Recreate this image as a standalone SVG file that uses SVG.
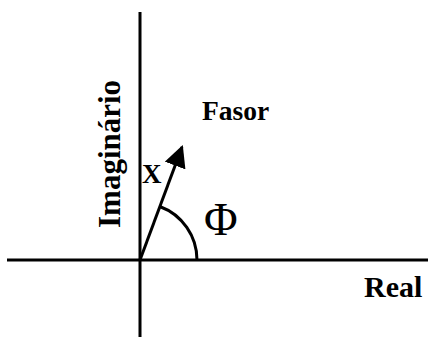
<svg xmlns="http://www.w3.org/2000/svg" width="428" height="337" viewBox="0 0 428 337">
<style>
.ax{stroke:#000;stroke-width:3;fill:none}
.t{font-family:"Liberation Serif","Times New Roman",serif;fill:#000}
.b{font-weight:bold}
</style>
<defs>
<marker id="ah" markerUnits="userSpaceOnUse" markerWidth="22" markerHeight="22" viewBox="0 0 20 20" refX="18" refY="10" orient="auto">
<path d="M0,0 L20,10 L0,20 Z" fill="#000"/>
</marker>
</defs>
<rect width="428" height="337" fill="#fff"/>
<g id="connectors">
<line id="axis-imag" class="ax" x1="140" y1="12" x2="140" y2="337"/>
<line id="axis-real" class="ax" x1="7" y1="260" x2="428" y2="260"/>
<line id="phasor" class="ax" x1="140" y1="260" x2="182" y2="147" marker-end="url(#ah)"/>
<path id="angle-arc" class="ax" d="M159.8,206.5 A57,57 0 0 1 197,260"/>
</g>
<g id="label-imaginario"><text class="t b" font-size="31" transform="translate(120,228) rotate(-90)">Imaginário</text></g>
<g id="label-fasor"><text class="t b" font-size="27.5" x="202" y="120">Fasor</text></g>
<g id="label-real"><text class="t b" font-size="30" x="364" y="297">Real</text></g>
<g id="label-x"><text class="t b" font-size="27" x="142" y="183">X</text></g>
<g id="label-phi"><text class="t" font-size="46" x="204" y="235">Φ</text></g>
</svg>
